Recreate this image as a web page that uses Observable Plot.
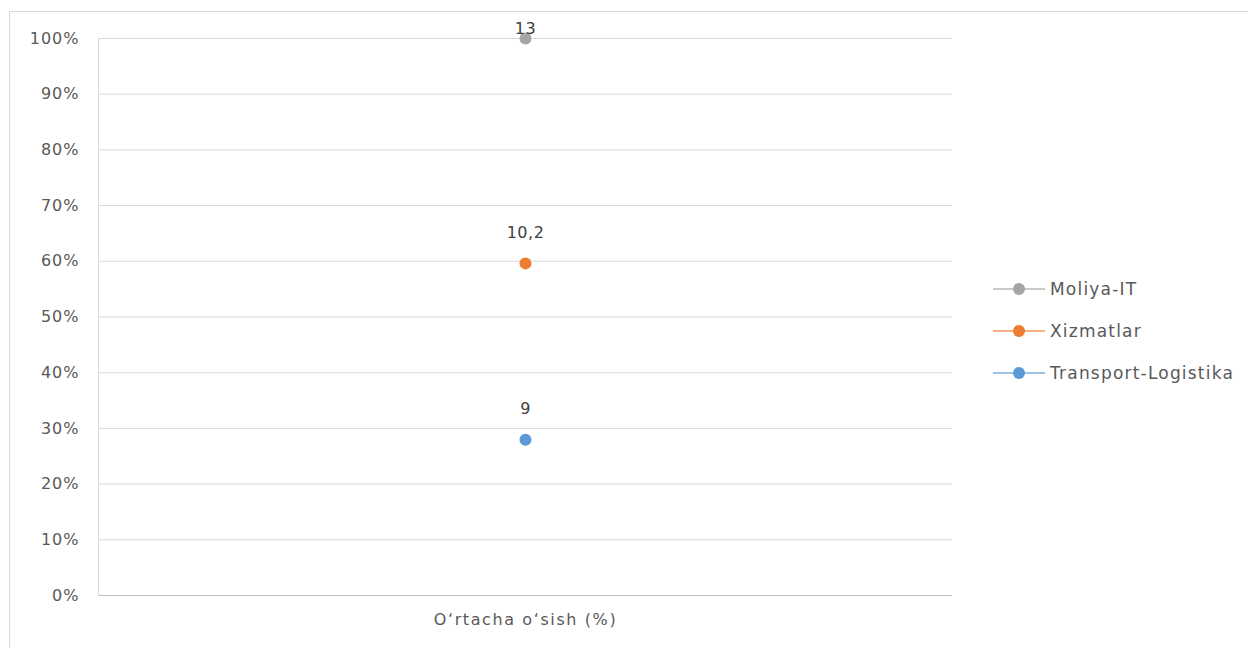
<!DOCTYPE html>
<html>
<head>
<meta charset="utf-8">
<script src="https://cdn.jsdelivr.net/npm/d3@7"></script>
<script src="https://cdn.jsdelivr.net/npm/@observablehq/plot@0.6"></script>
<style>
  body { margin: 0; background: #fff; font-family: "DejaVu Sans", sans-serif; }
  #wrap { position: relative; width: 1248px; height: 648px; overflow: hidden; }
  #frame { position: absolute; left: 9px; top: 11px; width: 1260px; height: 700px; border: 1px solid #d9d9d9; box-sizing: border-box; }
  #chart { position: absolute; left: 0; top: 0; }
  #chart svg text { letter-spacing: 0.5px; }
  #chart svg g[aria-label="y-axis tick label"] text { letter-spacing: 1px; }
  #chart svg g[aria-label="x-axis tick label"] text { letter-spacing: 1.6px; }
  #legend { position: absolute; left: 993px; top: 268px; font-size: 17px; letter-spacing: 1.2px; color: #595959; }
  .item { display: flex; align-items: center; height: 42px; }
  .sw { position: relative; width: 52px; height: 14px; margin-right: 5px; }
  .sw .ln { position: absolute; left: 0; top: 6px; width: 52px; height: 2px; }
  .sw .dt { position: absolute; left: 20px; top: 1px; width: 12px; height: 12px; border-radius: 50%; }
</style>
</head>
<body>
<div id="wrap">
  <div id="frame"></div>
  <div id="chart"></div>
  <div id="legend"></div>
</div>
<script>
const categories = ["O‘rtacha o‘sish (%)"];
const series = ["Transport-Logistika", "Xizmatlar", "Moliya-IT"];
const values = [9, 10.2, 13];
const colors = ["#5b9bd5", "#ed7d31", "#a5a5a5"];
const yTicks = [0, 0.1, 0.2, 0.3, 0.4, 0.5, 0.6, 0.7, 0.8, 0.9, 1];

const data = series.map((s, i) => ({category: categories[0], series: s, value: values[i]}));
const fmt = v => String(v).replace(".", ",");

const stackOpts = {x: "category", y: "value", z: "series", offset: "normalize"};

const plot = Plot.plot({
  width: 1248,
  height: 648,
  marginLeft: 98,
  marginRight: 296,
  marginTop: 38,
  marginBottom: 53,
  style: {fontFamily: "DejaVu Sans, sans-serif", fontSize: "15px", color: "#595959", background: "transparent"},
  x: {type: "band", domain: categories, padding: 0, label: null},
  y: {domain: [0, 1], label: null},
  color: {domain: series, range: colors},
  marks: [
    Plot.gridY(yTicks, {stroke: "#d9d9d9", strokeOpacity: 1, strokeWidth: 1}),
    Plot.axisY({ticks: yTicks, tickFormat: d3.format(".0%"), tickSize: 0, tickPadding: 19, fontSize: 16, fill: "#595959"}),
    Plot.axisX({tickSize: 0, tickPadding: 18, fontSize: 16, fill: "#595959"}),
    Plot.ruleY([0], {stroke: "#bfbfbf", strokeWidth: 1.2}),
    Plot.frame({anchor: "left", stroke: "#d9d9d9"}),
    Plot.lineY(data, Plot.stackY2({...stackOpts, stroke: "series", strokeWidth: 2})),
    Plot.dot(data, Plot.stackY2({...stackOpts, fill: "series", r: 6, stroke: "none"})),
    Plot.text(data, Plot.stackY2({...stackOpts, text: d => d.series !== "Moliya-IT" ? fmt(d.value) : "", dy: -31, fontSize: 16, fill: "#404040"})),
    Plot.text(data, Plot.stackY2({...stackOpts, text: d => d.series === "Moliya-IT" ? fmt(d.value) : "", dy: -10, fontSize: 16, fill: "#404040"}))
  ]
});
document.getElementById("chart").appendChild(plot);

const legend = document.getElementById("legend");
[2, 1, 0].forEach(i => {
  const it = document.createElement("div");
  it.className = "item";
  it.innerHTML = `<div class="sw"><div class="ln" style="background:${colors[i]};opacity:0.6"></div><div class="dt" style="background:${colors[i]}"></div></div><span>${series[i]}</span>`;
  legend.appendChild(it);
});
</script>
</body>
</html>
